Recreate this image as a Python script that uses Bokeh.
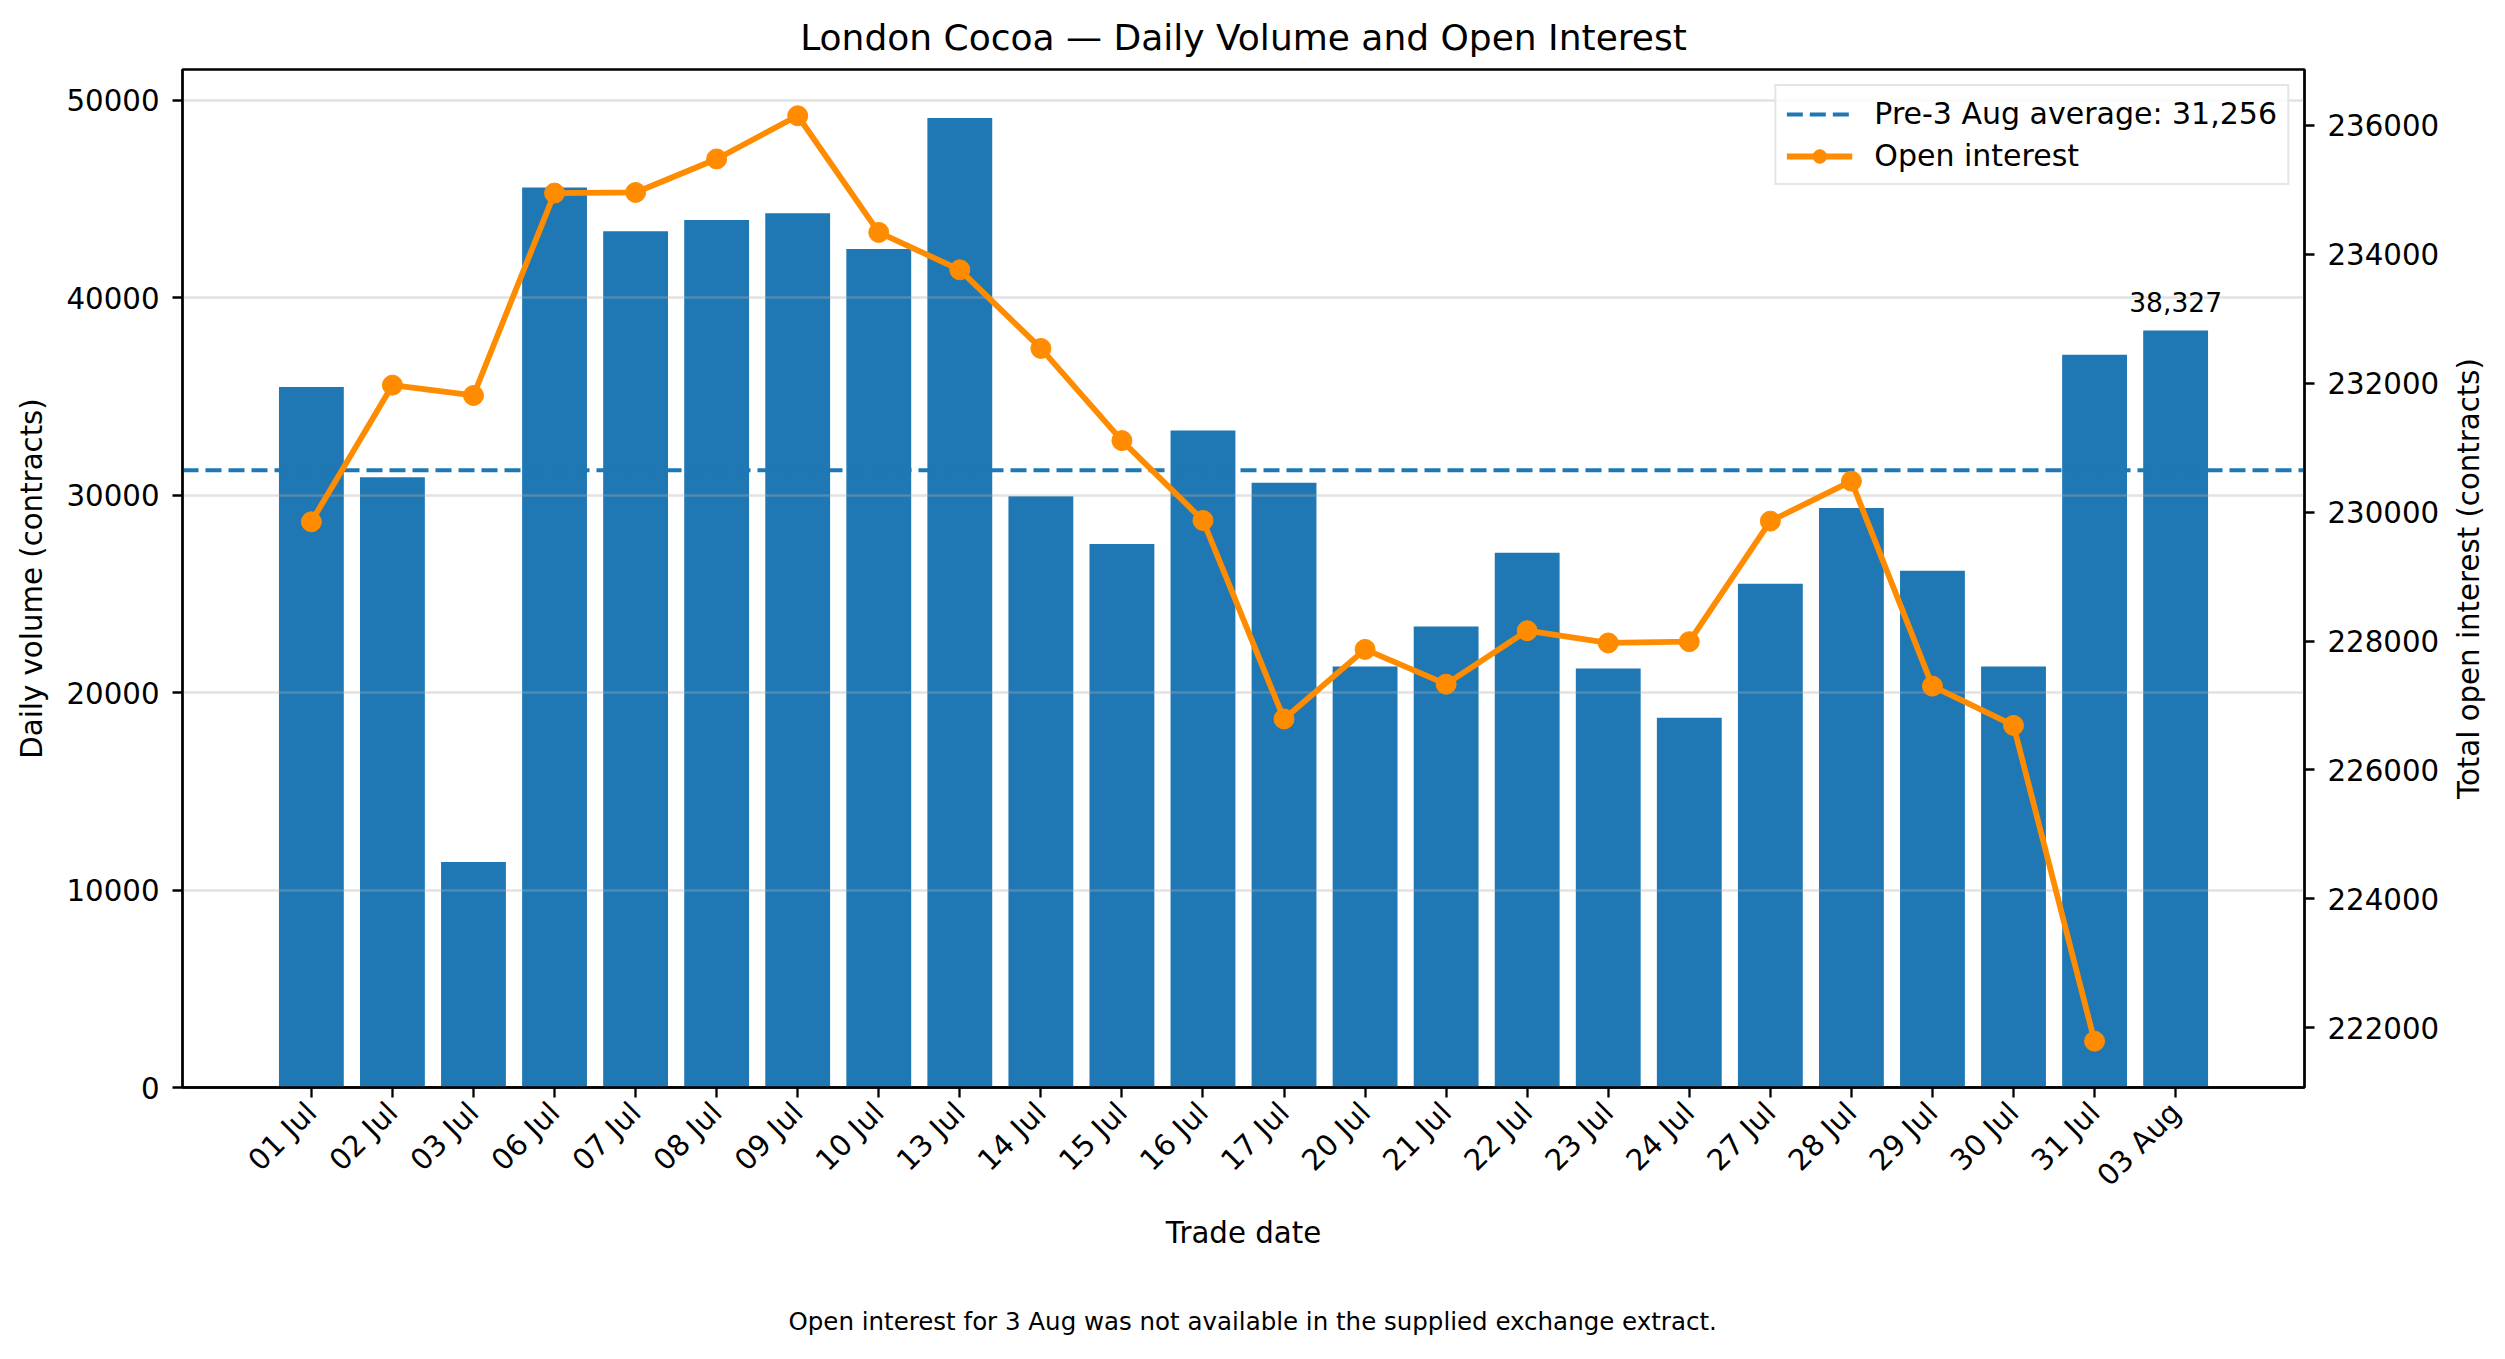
import math
from bokeh.plotting import figure
from bokeh.models import (Range1d, LinearAxis, FixedTicker, SingleIntervalTicker,
                          BasicTickFormatter, Legend, LegendItem, Label)
from bokeh.embed import file_html
from bokeh.resources import INLINE

# ---- data ----
dates = ["01 Jul", "02 Jul", "03 Jul", "06 Jul", "07 Jul", "08 Jul", "09 Jul", "10 Jul",
         "13 Jul", "14 Jul", "15 Jul", "16 Jul", "17 Jul", "20 Jul", "21 Jul", "22 Jul",
         "23 Jul", "24 Jul", "27 Jul", "28 Jul", "29 Jul", "30 Jul", "31 Jul", "03 Aug"]
volume = [35470, 30900, 11420, 45570, 43350, 43930, 44260, 42450,
          49090, 29940, 27520, 33270, 30620, 21320, 23340, 27070,
          21210, 18718, 25510, 29340, 26170, 21320, 37100, 38327]
open_interest = [229850, 231970, 231810, 234950, 234960, 235480, 236150, 234340,
                 233760, 232540, 231110, 229870, 226790, 227870, 227330, 228160,
                 227970, 227990, 229860, 230480, 227300, 226690, 221790, float("nan")]

n = len(dates)
idx = list(range(n))
pre_avg = sum(volume[:-1]) / (n - 1)

FONT = "DejaVu Sans"
BLUE = "#1f77b4"
ORANGE = "#ff8c00"

# ranges (matplotlib-like 5% margins)
bw = 0.8
x_lo, x_hi = -bw / 2, (n - 1) + bw / 2
x_pad = 0.05 * (x_hi - x_lo)
x_start, x_end = x_lo - x_pad, x_hi + x_pad
y_top = max(volume) * 1.05
oi_valid = [v for v in open_interest if v == v]
oi_min, oi_max = min(oi_valid), max(oi_valid)
oi_pad = 0.05 * (oi_max - oi_min)

W, H = 2489, 1343
p = figure(width=W, height=H, output_backend="svg", toolbar_location=None,
           x_range=Range1d(x_start, x_end),
           y_range=Range1d(0, y_top),
           min_border_left=182, min_border_right=185, min_border_top=69,
           min_border_bottom=256)
p.extra_y_ranges = {"oi": Range1d(oi_min - oi_pad, oi_max + oi_pad)}

p.title.text = "London Cocoa \u2014 Daily Volume and Open Interest"
p.title.text_font = FONT
p.title.text_font_size = "36px"
p.title.text_font_style = "normal"
p.title.text_color = "black"
p.title.align = "center"
p.title.standoff = 24

p.outline_line_color = "black"
p.outline_line_width = 2.3
p.background_fill_color = "white"
p.border_fill_color = "white"

# bars
p.vbar(x=idx, top=volume, width=bw, color=BLUE, line_color=None, level="underlay")

# grid
p.xgrid.visible = False
p.ygrid.grid_line_color = "#b0b0b0"
p.ygrid.grid_line_alpha = 0.35
p.ygrid.grid_line_width = 2.3
p.ygrid.level = "underlay"

# average line across the full x range
avg_line = p.line(x=[x_start, x_end], y=[pre_avg, pre_avg], line_color=BLUE,
                  line_width=4, line_dash="16 7", level="underlay")

# open interest
oi_line = p.line(idx, open_interest, y_range_name="oi", line_color=ORANGE, line_width=5.8)
oi_pts = p.scatter(idx, open_interest, y_range_name="oi", size=20, color=ORANGE)

# annotation on last bar
p.add_layout(Label(x=idx[-1], y=volume[-1], text=f"{volume[-1]:,}",
                   text_align="center", text_baseline="bottom", y_offset=19,
                   text_font=FONT, text_font_size="26.5px", text_color="black"))

# axes styling
def style_axis(ax):
    ax.axis_line_color = "black"
    ax.axis_line_width = 2.3
    ax.major_tick_line_color = "black"
    ax.major_tick_line_width = 2.3
    ax.major_tick_out = 10
    ax.major_tick_in = 0
    ax.minor_tick_line_color = None
    ax.major_label_text_font = FONT
    ax.major_label_text_font_size = "29.25px"
    ax.major_label_text_color = "black"
    ax.axis_label_text_font = FONT
    ax.axis_label_text_font_size = "29.25px"
    ax.axis_label_text_font_style = "normal"
    ax.axis_label_text_color = "black"
    ax.major_label_standoff = 13

xa = p.xaxis[0]
xa.ticker = FixedTicker(ticks=idx)
xa.major_label_overrides = {i: d for i, d in zip(idx, dates)}
xa.major_label_orientation = math.pi / 4
xa.axis_label = "Trade date"
style_axis(xa)
xa.major_label_standoff = 10
xa.axis_label_standoff = 8

ya = p.yaxis[0]
ya.ticker = SingleIntervalTicker(interval=10000)
ya.formatter = BasicTickFormatter(use_scientific=False)
ya.axis_label = "Daily volume (contracts)"
style_axis(ya)
ya.axis_label_standoff = 14

ya2 = LinearAxis(y_range_name="oi",
                 ticker=SingleIntervalTicker(interval=2000),
                 formatter=BasicTickFormatter(use_scientific=False))
style_axis(ya2)
p.add_layout(ya2, "right")

# right axis title (reads bottom-to-top, centred on the frame); placed in a side panel
p.add_layout(Label(x=x_end, y=y_top / 2, x_offset=164, angle=math.pi / 2,
                   text="Total open interest (contracts)", text_align="center",
                   text_baseline="middle", text_font=FONT, text_font_size="29.25px",
                   text_color="black"), "right")

# footnote, in the bottom panel
p.add_layout(Label(x=x_start, y=0, x_offset=606, y_offset=-234,
                   text="Open interest for 3 Aug was not available in the supplied exchange extract.",
                   text_align="left", text_baseline="alphabetic", text_font=FONT,
                   text_font_size="24.5px", text_color="black"), "below")

# legend
legend = Legend(items=[
    LegendItem(label=f"Pre-3 Aug average: {round(pre_avg):,}", renderers=[avg_line]),
    LegendItem(label="Open interest", renderers=[oi_line, oi_pts]),
], location="top_right")
legend.margin = 15
legend.padding = 10
legend.spacing = 7
legend.label_height = 34
legend.glyph_height = 34
legend.glyph_width = 66
legend.label_standoff = 22
legend.label_text_font = FONT
legend.label_text_font_size = "30px"
legend.label_text_color = "black"
legend.border_line_color = "#cccccc"
legend.border_line_width = 2.5
legend.background_fill_alpha = 0.8
p.add_layout(legend)

open("out.html", "w").write(file_html(p, INLINE))
